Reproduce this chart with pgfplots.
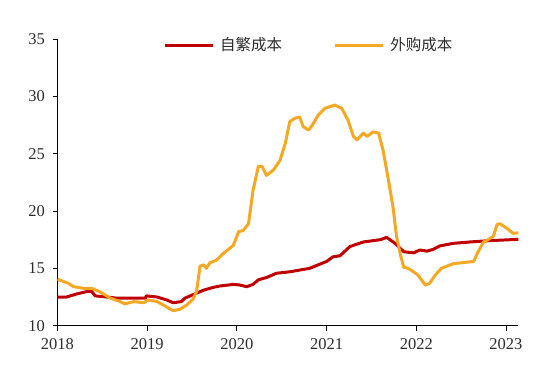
\documentclass[border=0pt]{standalone}
\usepackage{fontspec}
\setmainfont{Liberation Serif}
\newfontfamily\cjk{Noto Sans CJK SC}
\usepackage{pgfplots}
\pgfplotsset{compat=1.18}
\definecolor{cred}{RGB}{192,0,0}
\definecolor{corange}{RGB}{244,168,36}
\definecolor{tgray}{RGB}{45,45,45}
\begin{document}
\begin{tikzpicture}
\path[use as bounding box] (-57.5pt,-51.3pt) rectangle (492.5pt,325.7pt);
\begin{axis}[
  at={(0pt,0pt)}, anchor=south west,
  scale only axis, width=461pt, height=286.7pt,
  xmin=2018, xmax=2023.14, ymin=10, ymax=35,
  xtick={2018,2019,2020,2021,2022,2023},
  ytick={10,15,20,25,30,35},
  axis x line*=bottom, axis y line*=left,
  axis line style={line width=0.8pt, black},
  tick style={line width=0.8pt, black},
  major tick length=5pt,
  xtick pos=bottom, ytick pos=left,
  tick align=outside,
  /pgf/number format/assume math mode=true,
  /pgf/number format/1000 sep={},
  ticklabel style={font=\fontsize{16.5}{16.5}\selectfont, text=tgray},
  xticklabel style={yshift=-4pt},
  yticklabel style={xshift=-4pt},
  legend columns=2,
  legend style={draw=none, fill=none, at={(0.2295,0.979)}, anchor=west,
    inner sep=0pt, font=\cjk\fontsize{15.5}{16}\selectfont, text=tgray,
    nodes={inner xsep=0pt, inner ysep=1pt},
    /tikz/every odd column/.append style={column sep=5.6pt},
    /tikz/every even column/.append style={column sep=51.7pt}},
  legend image code/.code={\draw[#1] (0pt,0pt) -- (48pt,0pt);},
  line join=round,
]
\addplot[cred, line width=3pt] coordinates {
(2018.00,12.5) (2018.10,12.5) (2018.21,12.76) (2018.34,13.0) (2018.38,13.0)
(2018.42,12.6) (2018.55,12.5) (2018.66,12.4) (2018.85,12.4) (2018.98,12.4)
(2018.99,12.6) (2019.11,12.5) (2019.22,12.24) (2019.29,12.0) (2019.38,12.1)
(2019.42,12.4) (2019.51,12.7) (2019.63,13.1) (2019.74,13.35) (2019.81,13.46)
(2019.96,13.6) (2020.03,13.55) (2020.11,13.4) (2020.18,13.6) (2020.24,14.0)
(2020.33,14.2) (2020.44,14.57) (2020.59,14.7) (2020.81,15.0) (2021.00,15.6)
(2021.07,16.0) (2021.15,16.1) (2021.26,16.9) (2021.41,17.3) (2021.60,17.5)
(2021.67,17.7) (2021.76,17.2) (2021.86,16.45) (2021.97,16.35) (2022.04,16.6)
(2022.12,16.5) (2022.19,16.66) (2022.26,16.95) (2022.41,17.18) (2022.60,17.3)
(2022.78,17.4) (2022.97,17.47) (2023.14,17.53)
};
\addlegendentry{自繁成本}
\addplot[corange, line width=3pt] coordinates {
(2018.00,14.05) (2018.12,13.7) (2018.18,13.4) (2018.29,13.26) (2018.38,13.26)
(2018.47,12.97) (2018.59,12.4) (2018.70,12.1) (2018.75,11.9) (2018.85,12.1)
(2018.96,12.0) (2019.01,12.24) (2019.11,12.1) (2019.18,11.8) (2019.29,11.3)
(2019.37,11.45) (2019.44,11.8) (2019.51,12.3) (2019.55,12.97) (2019.59,15.2)
(2019.63,15.3) (2019.66,15.0) (2019.70,15.5) (2019.77,15.7) (2019.85,16.3)
(2019.96,17.0) (2020.02,18.2) (2020.07,18.3) (2020.13,18.9) (2020.18,21.8)
(2020.24,23.9) (2020.28,23.9) (2020.33,23.1) (2020.41,23.6) (2020.48,24.4)
(2020.54,25.9) (2020.59,27.8) (2020.65,28.1) (2020.70,28.2) (2020.74,27.35)
(2020.80,27.06) (2020.85,27.6) (2020.91,28.4) (2020.98,28.95) (2021.09,29.24)
(2021.17,28.95) (2021.24,27.9) (2021.30,26.5) (2021.34,26.2) (2021.41,26.8)
(2021.45,26.5) (2021.52,26.9) (2021.58,26.8) (2021.63,25.3) (2021.69,22.7)
(2021.74,20.4) (2021.78,17.8) (2021.82,16.3) (2021.86,15.1) (2021.91,15.0)
(2021.97,14.7) (2022.02,14.4) (2022.10,13.55) (2022.15,13.7) (2022.21,14.4)
(2022.28,15.0) (2022.41,15.4) (2022.52,15.5) (2022.64,15.6) (2022.69,16.45)
(2022.75,17.3) (2022.80,17.5) (2022.86,17.8) (2022.90,18.8) (2022.93,18.9)
(2023.01,18.5) (2023.08,18.05) (2023.14,18.1)
};
\addlegendentry{外购成本}
\end{axis}
\end{tikzpicture}
\end{document}
